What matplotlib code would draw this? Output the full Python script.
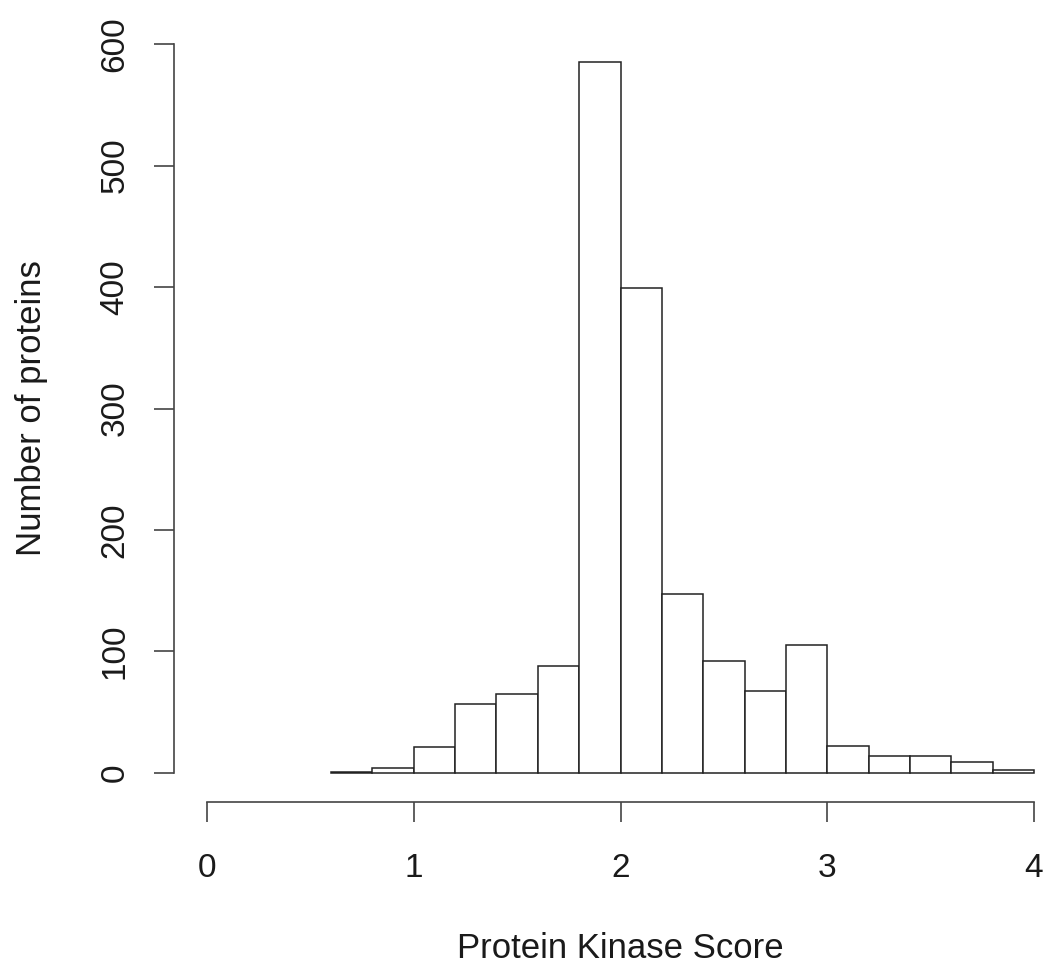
import matplotlib
matplotlib.use("Agg")
import matplotlib.pyplot as plt
import numpy as np

plt.rcParams['font.family'] = ['Liberation Sans', 'DejaVu Sans']

bin_edges = [0.6, 0.8, 1.0, 1.2, 1.4, 1.6, 1.8, 2.0, 2.2, 2.4, 2.6, 2.8, 3.0, 3.2, 3.4, 3.6, 3.8, 4.0]
counts = [1, 4, 21, 57, 65, 88, 585, 399, 147, 92, 67, 105, 22, 14, 14, 9, 2]
x_ticks = [0, 1, 2, 3, 4]
y_ticks = [0, 100, 200, 300, 400, 500, 600]
x_label = "Protein Kinase Score"
y_label = "Number of proteins"

fig = plt.figure(figsize=(10.47, 9.69), dpi=100)
ax = fig.add_axes([174/1047, (969-802)/969, 893/1047, 787/969])

lefts = np.array(bin_edges[:-1])
widths = np.diff(bin_edges)
ax.bar(lefts, counts, width=widths, align='edge', facecolor='white',
       edgecolor='#222222', linewidth=1.1)

ax.set_xlim(-0.16, 4.16)
ax.set_ylim(-24, 624)

for s in ['top', 'right']:
    ax.spines[s].set_visible(False)
ax.spines['left'].set_bounds(0, 600)
ax.spines['bottom'].set_bounds(0, 4)
for s in ['left', 'bottom']:
    ax.spines[s].set_linewidth(1.2)
    ax.spines[s].set_color('#444444')

ax.set_xticks(x_ticks)
ax.set_xticklabels([str(v) for v in x_ticks])
ax.set_yticks(y_ticks)
ax.set_yticklabels([str(v) for v in y_ticks], rotation=90, va='center')
ax.tick_params(axis='both', direction='out', length=14.4, width=1.2, color='#444444',
               labelsize=24, labelcolor='#1a1a1a')
ax.tick_params(axis='x', pad=22)
ax.tick_params(axis='y', pad=17)

ax.set_xlabel(x_label, fontsize=25, color='#1a1a1a', labelpad=35)
ax.set_ylabel(y_label, fontsize=25, color='#1a1a1a', labelpad=37)

fig.savefig("out.png", dpi=100)
